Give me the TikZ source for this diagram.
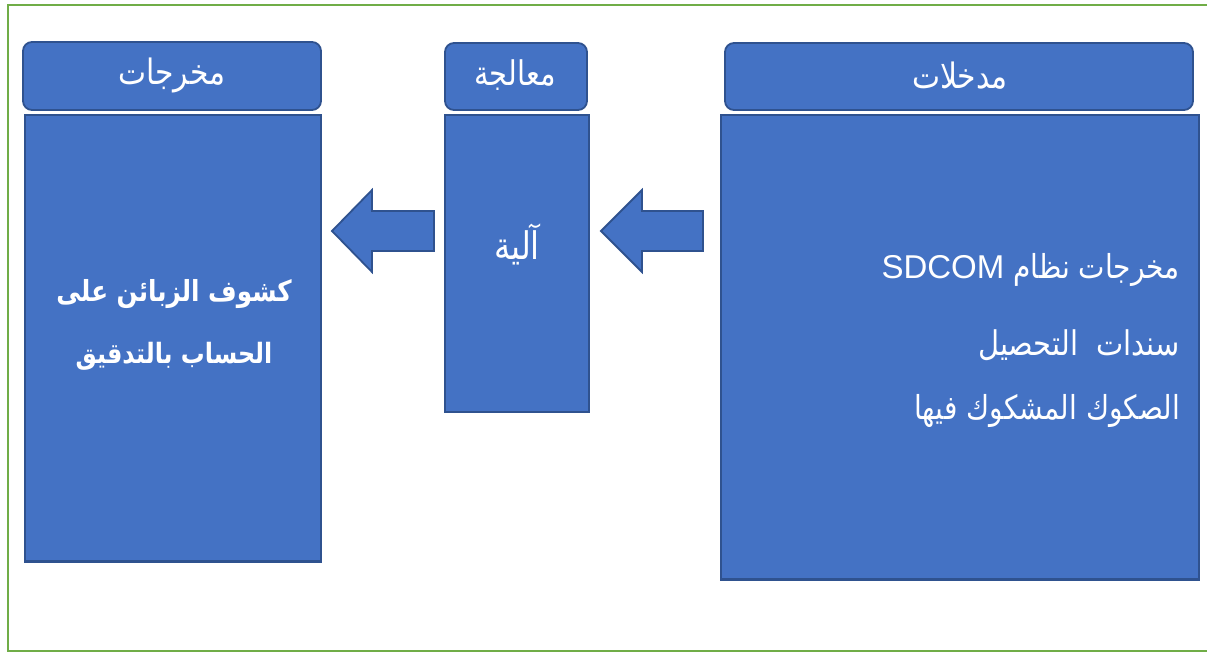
\documentclass[tikz,border=0pt]{standalone}
\usepackage{fontspec}
\TeXXeTstate=1
\newfontfamily\arabicfont[Script=Arabic,FakeStretch=0.85]{DejaVu Sans}
\newfontfamily\latinfont{Liberation Sans}
\definecolor{boxfill}{HTML}{4472C4}
\definecolor{boxline}{HTML}{2F528F}
\definecolor{frameline}{HTML}{70AD47}
\begin{document}
\begin{tikzpicture}[x=1pt,y=-1pt,
  hdr/.style={draw=boxline,line width=1.8pt,fill=boxfill,rounded corners=9pt},
  body/.style={draw=boxline,line width=1.8pt,fill=boxfill},
  shadowline/.style={draw=boxline,line width=3pt},
  blockarrow/.style={draw=boxline,line width=1.8pt,fill=boxfill,line join=miter},
  txt/.style={text=white,inner sep=0pt,font=\arabicfont}]
\useasboundingbox (0,0) rectangle (1207,653);
\draw[frameline,line width=2pt] (1207,5) -- (8,5) -- (8,651) -- (1207,651);
% headers
\draw[hdr] (23,42) rectangle (321,110);
\draw[hdr] (445,43) rectangle (587,110);
\draw[hdr] (725,43) rectangle (1193,110);
% bodies
\draw[body] (25,115) rectangle (321,562);
\draw[shadowline] (25,561) -- (321,561);
\draw[body] (445,115) rectangle (589,412);
\draw[body] (721,115) rectangle (1199,580);
\draw[shadowline] (721,579) -- (1199,579);
% arrows
\draw[blockarrow] (434,211) -- (372,211) -- (372,190) -- (332,231) -- (372,272) -- (372,251) -- (434,251) -- cycle;
\draw[blockarrow] (703,211) -- (642,211) -- (642,190) -- (601,231) -- (642,272) -- (642,251) -- (703,251) -- cycle;
% header texts
\node[txt,font=\arabicfont\fontsize{35}{40}\selectfont] (hout) at (172,75) {\beginR مخرجات\endR};
\node[txt,font=\arabicfont\fontsize{34}{40}\selectfont] (hproc) at (515,75) {\beginR معالجة\endR};
\node[txt,font=\arabicfont\fontsize{35}{40}\selectfont] (hin) at (960,76) {\beginR مدخلات\endR};
% middle
\node[txt,font=\arabicfont\fontsize{38}{44}\selectfont] (mech) at (517,244) {\beginR آلية\endR};
% right body
\node[txt,anchor=east,font=\arabicfont\fontsize{33}{38}\selectfont] (in1) at (1180,270) {\beginR مخرجات نظام {\latinfont\fontsize{33}{38}\selectfont\beginL SDCOM\endL}\endR};
\node[txt,anchor=east,font=\arabicfont\fontsize{34}{38}\selectfont] (in2) at (1180,345) {\beginR سندات~~التحصيل\endR};
\node[txt,anchor=east,font=\arabicfont\fontsize{33}{38}\selectfont] (in3) at (1180,411) {\beginR الصكوك المشكوك فيها\endR};
% left body
\node[txt,font=\arabicfont\bfseries\fontsize{29}{34}\selectfont] (out1) at (174,294) {\beginR كشوف الزبائن على\endR};
\node[txt,font=\arabicfont\bfseries\fontsize{28}{34}\selectfont] (out2) at (174,356) {\beginR الحساب بالتدقيق\endR};
\end{tikzpicture}
\end{document}
